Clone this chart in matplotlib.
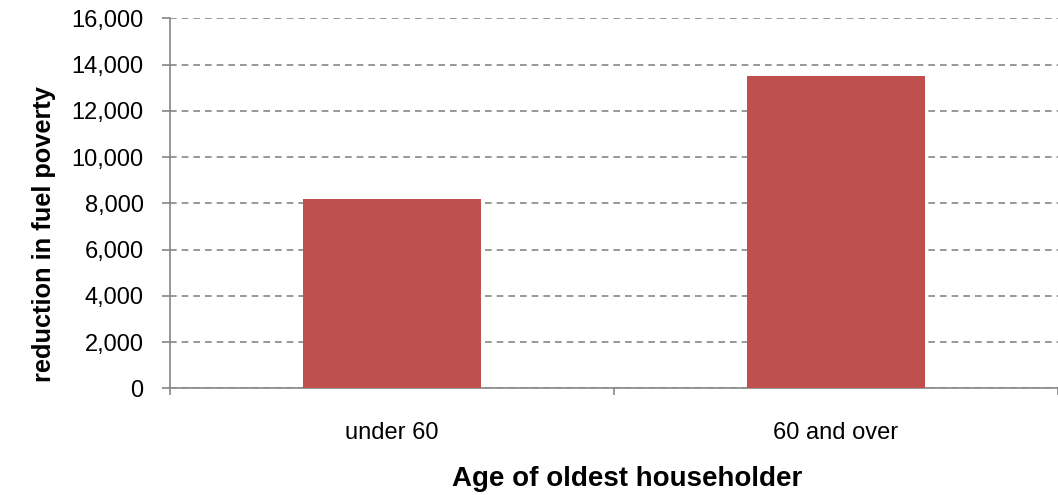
import matplotlib
matplotlib.use("Agg")
import matplotlib.pyplot as plt
from matplotlib.ticker import FuncFormatter, FixedLocator

categories = ["under 60", "60 and over"]
reduction = [8200, 13500]
y_ticks = [0, 2000, 4000, 6000, 8000, 10000, 12000, 14000, 16000]

plt.rcParams["font.family"] = ["Liberation Sans", "DejaVu Sans"]

fig = plt.figure(figsize=(10.58, 4.95), dpi=100)
ax = fig.add_axes([0.1607, 0.2156, 0.8393, 0.7474])

x = list(range(len(categories)))
ax.bar(x, reduction, width=0.4, color="#C0504D", zorder=3)

ax.set_xlim(-0.5, len(categories) - 0.5)
ax.set_ylim(0, 16000)
ax.set_yticks(y_ticks)
ax.yaxis.set_major_formatter(FuncFormatter(lambda v, p: f"{int(v):,}"))
ax.yaxis.grid(True, linestyle=(0, (4, 3)), color="#868686", linewidth=1.2, zorder=0)

ax.set_xticks(x)
ax.set_xticklabels(categories)
ax.xaxis.set_minor_locator(FixedLocator([i - 0.5 for i in range(len(categories) + 1)]))
ax.tick_params(axis="x", which="major", length=0, pad=24, labelsize=17)
ax.tick_params(axis="x", which="minor", length=5, color="#868686", width=1.2)
ax.tick_params(axis="y", length=6, color="#868686", width=1.2, labelsize=17, pad=13)

for side in ["top", "right"]:
    ax.spines[side].set_visible(False)
for side in ["left", "bottom"]:
    ax.spines[side].set_color("#868686")
    ax.spines[side].set_linewidth(1.2)

ax.set_ylabel("reduction in fuel poverty", fontsize=18.3, fontweight="bold")
ax.yaxis.set_label_coords(-0.1607 + 20 / 1058, (388.3 - 234) / 370.0, transform=ax.transAxes)
ax.yaxis.label.set_verticalalignment("center")
ax.set_xlabel("Age of oldest householder", fontsize=20, fontweight="bold")
ax.xaxis.set_label_coords(0.5 + (627 - 614) / 888.0, -(479 - 388.3) / 370.0)
ax.xaxis.label.set_verticalalignment("center")

fig.savefig("out.png", dpi=100)
